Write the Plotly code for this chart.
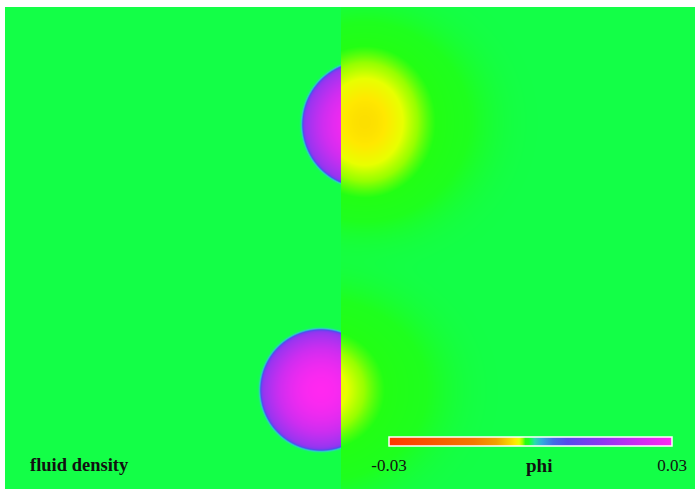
import numpy as np
import plotly.graph_objects as go

# ---- data (plot-area pixel coordinates, y downward) ----
plot_w, plot_h = 690, 482
cut_x = 336                      # density shown left of this, phi right of it

drop_cx = [360.5, 316.0]         # droplet centres
drop_cy = [117.5, 383.0]
drop_r = [62.5, 60.0]            # droplet radii
drop_core = [0.030, 0.030]       # value at droplet centre
drop_rim = [0.015, 0.015]        # value just inside the interface

phi_cx = [360.0, 316.0]          # phi blob centres
phi_cy = [115.0, 383.0]
phi_core = [-0.0029, -0.0021]    # phi core depth
phi_core_sx = [47.0, 44.0]
phi_core_sy = [54.0, 43.0]
phi_halo = [-0.0009, -0.0009]    # phi halo depth
phi_halo_sx = [115.0, 118.0]
phi_halo_sy = [104.0, 100.0]

z_min, z_max = -0.03, 0.03
tick_vals = [-0.03, 0.03]
tick_text = ["-0.03", "0.03"]
bar_title = "phi"
field_label = "fluid density"

colorscale = [
    [0.000, "rgb(255,55,0)"],
    [0.150, "rgb(248,85,0)"],
    [0.300, "rgb(242,120,0)"],
    [0.380, "rgb(240,160,0)"],
    [0.430, "rgb(250,215,0)"],
    [0.445, "rgb(255,232,0)"],
    [0.460, "rgb(232,255,0)"],
    [0.472, "rgb(150,255,0)"],
    [0.482, "rgb(34,255,20)"],
    [0.492, "rgb(30,255,30)"],
    [0.500, "rgb(19,255,71)"],
    [0.515, "rgb(40,220,170)"],
    [0.540, "rgb(50,170,220)"],
    [0.580, "rgb(65,110,230)"],
    [0.630, "rgb(85,75,235)"],
    [0.750, "rgb(140,55,240)"],
    [0.880, "rgb(205,45,240)"],
    [1.000, "rgb(255,40,240)"],
]

# ---- build the two fields on a 1-px grid ----
ys = np.arange(plot_h) + 0.5
xl = np.arange(cut_x) + 0.5
xr = np.arange(cut_x, plot_w) + 0.5

XL, YL = np.meshgrid(xl, ys)
dens = np.zeros_like(XL)
for cx, cy, R, c0, c1 in zip(drop_cx, drop_cy, drop_r, drop_core, drop_rim):
    r = np.hypot(XL - cx, YL - cy)
    inside = c0 - (c0 - c1) * np.clip(r / R, 0, 1.2) ** 2
    blend = 0.5 * (1 - np.tanh((r - R) / 1.4))
    dens = dens + blend * inside

XR, YR = np.meshgrid(xr, ys)
phi = np.zeros_like(XR)
for i in range(len(phi_cx)):
    qc = ((XR - phi_cx[i]) / phi_core_sx[i]) ** 2 + ((YR - phi_cy[i]) / phi_core_sy[i]) ** 2
    qh = ((XR - phi_cx[i]) / phi_halo_sx[i]) ** 2 + ((YR - phi_cy[i]) / phi_halo_sy[i]) ** 2
    phi = phi + phi_core[i] * np.exp(-qc) + phi_halo[i] * np.exp(-qh ** 2)

fig = go.Figure()
fig.add_trace(go.Heatmap(
    x=xl, y=ys, z=np.round(dens, 6), zmin=z_min, zmax=z_max,
    colorscale=colorscale, showscale=False, hoverinfo="skip"))
fig.add_trace(go.Heatmap(
    x=xr, y=ys, z=np.round(phi, 6), zmin=z_min, zmax=z_max,
    colorscale=colorscale, hoverinfo="skip",
    colorbar=dict(
        orientation="h", lenmode="pixels", len=283, thickness=9,
        x=384 / plot_w, xanchor="left",
        y=1 - 430 / plot_h, yanchor="top", xpad=0, ypad=0,
        outlinecolor="white", outlinewidth=1.5,
        tickvals=tick_vals, ticktext=tick_text,
        ticks="outside", ticklen=4, tickcolor="rgba(0,0,0,0)",
        tickfont=dict(family="Liberation Serif", size=17, color="#111"),
    )))

fig.add_annotation(text=f"<b>{bar_title}</b>", x=534 / plot_w, y=1 - 458 / plot_h,
                   xref="paper", yref="paper", showarrow=False,
                   xanchor="center", yanchor="middle",
                   font=dict(family="Liberation Serif", size=19, color="#111"))
fig.add_annotation(text=f"<b>{field_label}</b>", x=74 / plot_w, y=1 - 458 / plot_h,
                   xref="paper", yref="paper", showarrow=False,
                   xanchor="center", yanchor="middle",
                   font=dict(family="Liberation Serif", size=18.5, color="#111"))

fig.update_xaxes(visible=False, range=[0, plot_w], fixedrange=True)
fig.update_yaxes(visible=False, range=[plot_h, 0], fixedrange=True)
fig.update_layout(
    width=695, height=489,
    margin=dict(l=5, r=0, t=7, b=0),
    paper_bgcolor="white", plot_bgcolor="rgb(19,255,71)",
    showlegend=False,
)

fig.write_html("out.html", config={"displayModeBar": False},
               post_script="document.body.style.margin='0';")
